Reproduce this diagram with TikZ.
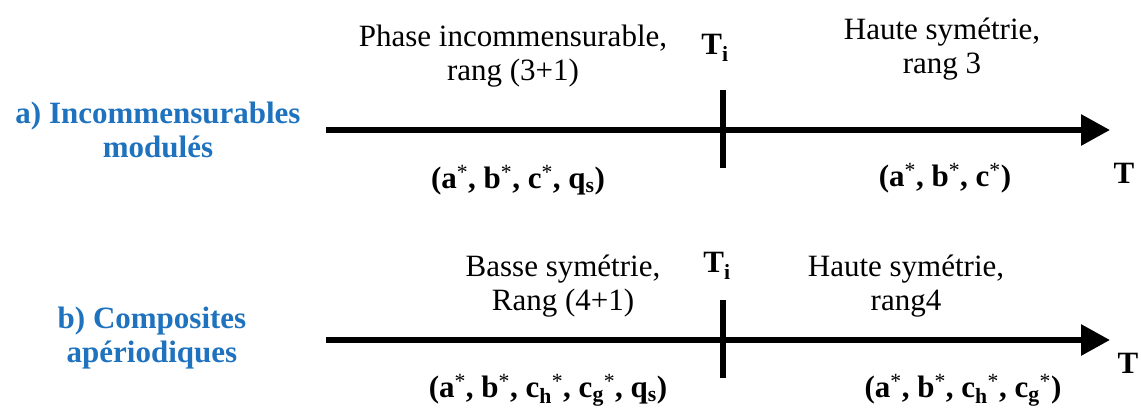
\documentclass[tikz,border=0pt]{standalone}
\usepackage{fontspec}
\setmainfont{Liberation Serif}
\usetikzlibrary{arrows.meta}
\definecolor{phaseblue}{RGB}{31,114,189}
\newcommand{\rv}[1]{#1\textsuperscript{\mdseries*}}
\newcommand{\rvs}[2]{#1\textsubscript{#2}\textsuperscript{\mdseries*}}

\begin{document}
\begin{tikzpicture}[>={Triangle[length=29pt,width=30pt]},x=1pt,y=-1pt,
  every node/.style={font=\fontsize{31}{34}\selectfont,inner sep=0pt,align=center},
  axis/.style={line width=6pt,->},
  tick/.style={line width=5.5pt},
  bold/.style={font=\fontsize{31}{34}\selectfont\bfseries},
  family/.style={bold,text=phaseblue}]
  \useasboundingbox (0,0) rectangle (1141,410);
  % a) incommensurables
  \coordinate (a0) at (326,130);
  \coordinate (a1) at (1110,130);
  \coordinate (ta0) at (723,90);
  \coordinate (ta1) at (723,168);
  \draw[axis] (a0) -- (a1);
  \draw[tick] (ta0) -- (ta1);
  \node[family] (famA) at (158,130) {a) Incommensurables\\modulés};
  \node (lowA) at (513,56) {Phase incommensurable,\\rang (3+1)};
  \node (highA) at (942,49) {Haute symétrie,\\rang 3};
  \node[bold] (tiA) at (715,48) {T\textsubscript{i}};
  \node[bold] (baseLowA) at (518,180) {(\rv{a}, \rv{b}, \rv{c}, q\textsubscript{s})};
  \node[bold] (baseHighA) at (945,178) {(\rv{a}, \rv{b}, \rv{c})};
  \node[bold] (tA) at (1124,173) {T};
  % b) composites
  \coordinate (b0) at (326,340);
  \coordinate (b1) at (1110,340);
  \coordinate (tb0) at (723,300);
  \coordinate (tb1) at (723,378);
  \draw[axis] (b0) -- (b1);
  \draw[tick] (tb0) -- (tb1);
  \node[family] (famB) at (152,338) {b) Composites\\apériodiques};
  \node (lowB) at (563,286) {Basse symétrie,\\Rang (4+1)};
  \node (highB) at (906,286) {Haute symétrie,\\rang4};
  \node[bold] (tiB) at (717,266) {T\textsubscript{i}};
  \node[bold] (baseLowB) at (548,390) {(\rv{a}, \rv{b}, \rvs{c}{h}, \rvs{c}{g}, q\textsubscript{s})};
  \node[bold] (baseHighB) at (963,390) {(\rv{a}, \rv{b}, \rvs{c}{h}, \rvs{c}{g})};
  \node[bold] (tB) at (1128,363) {T};
\end{tikzpicture}
\end{document}
